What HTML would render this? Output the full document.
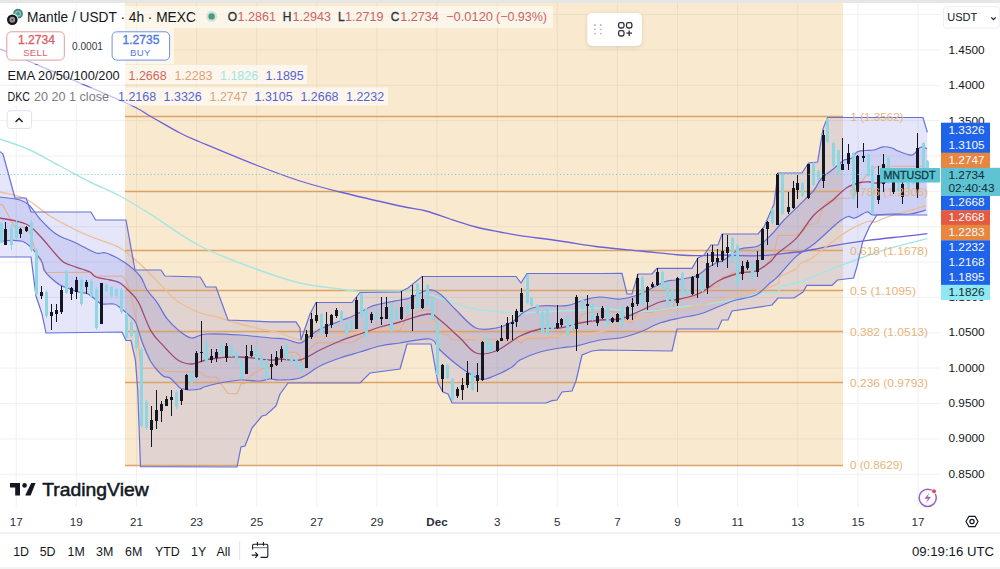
<!DOCTYPE html>
<html><head><meta charset="utf-8">
<style>
html,body{margin:0;padding:0;background:#fff;width:1000px;height:569px;overflow:hidden;}
svg{position:absolute;left:0;top:0;}
text{font-family:"Liberation Sans",sans-serif;}
</style></head>
<body>
<svg width="1000" height="569" viewBox="0 0 1000 569">
<rect x="0" y="0" width="1000" height="569" fill="#ffffff"/>
<line x1="16.2" y1="3" x2="16.2" y2="507" stroke="#eff0f3" stroke-width="1"/>
<line x1="76.3" y1="3" x2="76.3" y2="507" stroke="#eff0f3" stroke-width="1"/>
<line x1="136.4" y1="3" x2="136.4" y2="507" stroke="#eff0f3" stroke-width="1"/>
<line x1="196.6" y1="3" x2="196.6" y2="507" stroke="#eff0f3" stroke-width="1"/>
<line x1="256.7" y1="3" x2="256.7" y2="507" stroke="#eff0f3" stroke-width="1"/>
<line x1="316.8" y1="3" x2="316.8" y2="507" stroke="#eff0f3" stroke-width="1"/>
<line x1="376.9" y1="3" x2="376.9" y2="507" stroke="#eff0f3" stroke-width="1"/>
<line x1="437.0" y1="3" x2="437.0" y2="507" stroke="#eff0f3" stroke-width="1"/>
<line x1="497.2" y1="3" x2="497.2" y2="507" stroke="#eff0f3" stroke-width="1"/>
<line x1="557.3" y1="3" x2="557.3" y2="507" stroke="#eff0f3" stroke-width="1"/>
<line x1="617.4" y1="3" x2="617.4" y2="507" stroke="#eff0f3" stroke-width="1"/>
<line x1="677.5" y1="3" x2="677.5" y2="507" stroke="#eff0f3" stroke-width="1"/>
<line x1="737.6" y1="3" x2="737.6" y2="507" stroke="#eff0f3" stroke-width="1"/>
<line x1="797.8" y1="3" x2="797.8" y2="507" stroke="#eff0f3" stroke-width="1"/>
<line x1="857.9" y1="3" x2="857.9" y2="507" stroke="#eff0f3" stroke-width="1"/>
<line x1="918.0" y1="3" x2="918.0" y2="507" stroke="#eff0f3" stroke-width="1"/>
<line x1="0" y1="14.5" x2="940" y2="14.5" stroke="#eff0f3" stroke-width="1"/>
<line x1="0" y1="49.9" x2="940" y2="49.9" stroke="#eff0f3" stroke-width="1"/>
<line x1="0" y1="85.3" x2="940" y2="85.3" stroke="#eff0f3" stroke-width="1"/>
<line x1="0" y1="120.6" x2="940" y2="120.6" stroke="#eff0f3" stroke-width="1"/>
<line x1="0" y1="156.0" x2="940" y2="156.0" stroke="#eff0f3" stroke-width="1"/>
<line x1="0" y1="191.3" x2="940" y2="191.3" stroke="#eff0f3" stroke-width="1"/>
<line x1="0" y1="226.7" x2="940" y2="226.7" stroke="#eff0f3" stroke-width="1"/>
<line x1="0" y1="262.1" x2="940" y2="262.1" stroke="#eff0f3" stroke-width="1"/>
<line x1="0" y1="297.4" x2="940" y2="297.4" stroke="#eff0f3" stroke-width="1"/>
<line x1="0" y1="332.8" x2="940" y2="332.8" stroke="#eff0f3" stroke-width="1"/>
<line x1="0" y1="368.1" x2="940" y2="368.1" stroke="#eff0f3" stroke-width="1"/>
<line x1="0" y1="403.5" x2="940" y2="403.5" stroke="#eff0f3" stroke-width="1"/>
<line x1="0" y1="438.9" x2="940" y2="438.9" stroke="#eff0f3" stroke-width="1"/>
<line x1="0" y1="474.2" x2="940" y2="474.2" stroke="#eff0f3" stroke-width="1"/>
<rect x="125" y="3" width="718" height="462" fill="#e6a030" fill-opacity="0.23"/>
<path d="M0.0,151.6 L3.0,154.0 L9.0,176.0 L15.0,198.0 L26.0,198.0 L31.0,212.0 L91.0,212.0 L95.6,220.0 L126.0,220.0 L135.0,270.0 L161.0,270.0 L165.0,276.0 L200.0,277.0 L202.0,280.0 L206.0,287.0 L216.0,287.0 L228.0,320.0 L270.0,321.8 L296.0,321.8 L300.0,328.0 L301.0,340.0 L310.0,314.0 L316.0,302.5 L352.0,302.5 L360.0,292.5 L400.0,292.0 L408.0,288.0 L422.0,276.5 L516.0,276.5 L521.0,283.0 L527.0,273.5 L600.0,273.5 L622.0,273.4 L627.0,294.0 L632.0,294.0 L638.0,274.0 L652.0,274.0 L657.0,268.4 L692.0,268.4 L698.0,258.0 L704.0,255.0 L711.0,245.0 L718.0,245.0 L722.0,234.0 L758.0,234.0 L764.0,227.0 L774.0,204.0 L778.0,173.0 L802.0,173.0 L808.6,163.0 L817.6,162.0 L823.0,128.8 L827.5,117.5 L923.0,117.5 L927.4,132.4 L927.4,215.0 L877.0,215.0 L869.8,226.0 L862.6,242.0 L857.2,265.6 L853.6,278.0 L837.4,280.0 L832.0,285.4 L806.8,285.4 L803.0,292.0 L800.0,294.0 L794.0,298.0 L778.0,298.0 L772.0,305.0 L766.0,306.0 L732.0,311.0 L728.0,320.0 L722.0,320.0 L718.0,329.0 L677.0,329.0 L672.0,351.0 L600.0,350.0 L592.0,351.0 L582.0,355.0 L576.0,381.0 L572.0,391.0 L562.0,392.0 L557.0,400.0 L552.0,400.6 L546.0,403.0 L452.0,403.0 L448.0,394.0 L443.0,392.0 L438.0,383.0 L433.0,355.0 L431.0,344.0 L407.0,344.0 L404.0,355.0 L400.0,369.0 L370.0,373.0 L360.0,383.0 L300.0,383.0 L292.0,383.0 L288.0,383.0 L286.0,386.0 L280.0,394.0 L276.0,406.0 L266.0,415.0 L262.0,416.0 L252.0,428.0 L245.0,446.0 L241.0,447.0 L237.0,467.0 L140.5,466.6 L137.7,390.0 L135.4,360.0 L131.0,340.5 L126.0,340.5 L122.0,332.0 L46.0,333.0 L42.0,314.0 L36.0,296.0 L31.0,257.0 L0.0,257.0Z" fill="#5b63d8" fill-opacity="0.16"/>
<path d="M0.0,197.0 C3.3,197.5 15.0,198.5 20.0,200.0 C25.0,201.5 26.7,202.8 30.0,206.0 C33.3,209.2 35.7,214.3 40.0,219.0 C44.3,223.7 50.0,230.0 56.0,234.0 C62.0,238.0 69.3,239.8 76.0,243.0 C82.7,246.2 91.0,251.3 96.0,253.0 C101.0,254.7 101.3,251.5 106.0,253.0 C110.7,254.5 118.3,258.2 124.0,262.0 C129.7,265.8 136.2,271.3 140.0,276.0 C143.8,280.7 144.2,285.6 147.0,290.0 C149.8,294.4 153.7,297.6 157.0,302.3 C160.3,307.0 163.1,313.6 166.8,318.3 C170.5,323.0 174.9,327.3 179.0,330.6 C183.1,333.9 186.9,337.4 191.4,338.0 C195.9,338.6 197.9,334.5 206.0,334.0 C214.1,333.5 229.3,334.3 240.0,335.0 C250.7,335.7 262.5,337.3 270.0,338.0 C277.5,338.7 280.0,338.2 285.0,339.0 C290.0,339.8 295.8,343.5 300.0,343.0 C304.2,342.5 306.7,338.3 310.0,336.0 C313.3,333.7 315.0,331.5 320.0,329.0 C325.0,326.5 334.5,323.2 340.0,321.0 C345.5,318.8 348.0,318.3 353.0,316.0 C358.0,313.7 365.5,309.0 370.0,307.0 C374.5,305.0 375.0,305.2 380.0,304.0 C385.0,302.8 395.0,301.0 400.0,300.0 C405.0,299.0 405.3,299.7 410.0,298.0 C414.7,296.3 423.0,290.7 428.0,290.0 C433.0,289.3 435.3,290.7 440.0,294.0 C444.7,297.3 450.0,304.3 456.0,310.0 C462.0,315.7 469.3,325.0 476.0,328.0 C482.7,331.0 490.0,329.0 496.0,328.0 C502.0,327.0 507.3,324.7 512.0,322.0 C516.7,319.3 519.3,314.7 524.0,312.0 C528.7,309.3 534.0,307.0 540.0,306.0 C546.0,305.0 555.0,306.2 560.0,306.0 C565.0,305.8 566.0,306.0 570.0,305.0 C574.0,304.0 579.0,301.3 584.0,300.0 C589.0,298.7 594.0,297.2 600.0,297.0 C606.0,296.8 613.3,299.5 620.0,299.0 C626.7,298.5 632.7,296.8 640.0,294.0 C647.3,291.2 658.0,284.3 664.0,282.0 C670.0,279.7 670.7,281.0 676.0,280.0 C681.3,279.0 691.0,277.8 696.0,276.0 C701.0,274.2 702.7,271.2 706.0,269.0 C709.3,266.8 713.0,264.5 716.0,263.0 C719.0,261.5 720.0,262.3 724.0,260.0 C728.0,257.7 734.3,251.3 740.0,249.0 C745.7,246.7 752.7,248.5 758.0,246.0 C763.3,243.5 767.7,238.3 772.0,234.0 C776.3,229.7 779.3,224.9 784.0,220.0 C788.7,215.1 795.0,209.4 800.0,204.4 C805.0,199.4 810.5,194.2 814.0,190.0 C817.5,185.8 818.0,182.3 821.0,179.0 C824.0,175.7 828.4,173.0 832.0,170.0 C835.6,167.0 840.5,162.8 842.8,161.0 C845.1,159.2 844.5,160.0 846.0,159.5 C847.5,159.0 850.2,159.2 852.0,158.0 C853.8,156.8 854.8,153.2 857.0,152.0 C859.2,150.8 862.2,150.8 865.0,150.5 C867.8,150.2 871.0,150.6 874.0,150.0 C877.0,149.4 880.0,147.1 883.0,146.8 C886.0,146.5 889.5,147.3 892.0,148.0 C894.5,148.7 894.7,149.8 898.0,151.0 C901.3,152.2 908.3,155.6 912.0,155.0 C915.7,154.4 917.5,148.6 920.0,147.5 C922.5,146.4 925.8,148.3 927.0,148.5 L926.0,210.0 C923.3,210.7 916.0,213.3 910.0,214.0 C904.0,214.7 896.2,213.8 890.0,214.0 C883.8,214.2 876.8,215.3 873.0,215.0 C869.2,214.7 870.0,211.5 867.0,212.0 C864.0,212.5 858.2,217.2 855.0,218.0 C851.8,218.8 850.5,216.0 848.0,216.5 C845.5,217.0 842.7,219.1 840.0,221.0 C837.3,222.9 836.3,224.0 832.0,227.8 C827.7,231.6 820.0,239.2 814.0,244.0 C808.0,248.8 802.0,251.2 796.0,256.6 C790.0,262.0 782.3,272.0 778.0,276.4 C773.7,280.8 773.7,279.9 770.0,283.0 C766.3,286.1 761.7,292.2 756.0,295.0 C750.3,297.8 742.0,298.2 736.0,300.0 C730.0,301.8 726.0,303.7 720.0,306.0 C714.0,308.3 706.7,312.0 700.0,314.0 C693.3,316.0 686.7,316.5 680.0,318.0 C673.3,319.5 666.7,320.7 660.0,323.0 C653.3,325.3 646.7,329.5 640.0,332.0 C633.3,334.5 626.7,336.7 620.0,338.0 C613.3,339.3 607.3,338.7 600.0,340.0 C592.7,341.3 582.7,344.7 576.0,346.0 C569.3,347.3 566.0,347.0 560.0,348.0 C554.0,349.0 546.7,350.0 540.0,352.0 C533.3,354.0 524.7,357.5 520.0,360.0 C515.3,362.5 516.3,364.3 512.0,367.0 C507.7,369.7 499.3,374.0 494.0,376.0 C488.7,378.0 485.7,380.5 480.0,379.0 C474.3,377.5 466.7,371.8 460.0,367.0 C453.3,362.2 445.0,354.7 440.0,350.0 C435.0,345.3 436.7,340.2 430.0,339.0 C423.3,337.8 408.3,341.8 400.0,343.0 C391.7,344.2 386.7,344.5 380.0,346.0 C373.3,347.5 366.7,350.0 360.0,352.0 C353.3,354.0 346.7,355.7 340.0,358.0 C333.3,360.3 326.7,362.7 320.0,366.0 C313.3,369.3 306.7,375.7 300.0,378.0 C293.3,380.3 285.0,379.8 280.0,380.0 C275.0,380.2 273.3,378.8 270.0,379.0 C266.7,379.2 264.3,380.8 260.0,381.0 C255.7,381.2 247.3,380.2 244.0,380.0 C240.7,379.8 244.0,379.5 240.0,380.0 C236.0,380.5 226.0,381.8 220.0,383.0 C214.0,384.2 207.3,386.0 204.0,387.0 C200.7,388.0 202.3,388.5 200.0,389.0 C197.7,389.5 192.7,390.0 190.0,390.0 C187.3,390.0 185.7,389.3 184.0,389.0 C182.3,388.7 182.3,389.8 180.0,388.0 C177.7,386.2 172.7,379.9 170.0,378.0 C167.3,376.1 166.2,377.8 164.0,376.5 C161.8,375.2 159.2,372.4 157.0,370.0 C154.8,367.6 152.5,364.3 151.0,362.0 C149.5,359.7 149.5,359.4 148.0,356.0 C146.5,352.6 144.0,347.2 142.0,341.7 C140.0,336.2 137.8,327.3 136.0,323.2 C134.2,319.1 133.5,319.4 131.0,317.0 C128.5,314.6 124.0,310.7 121.2,308.5 C118.4,306.3 117.2,304.8 114.0,304.0 C110.8,303.2 105.0,304.7 102.0,304.0 C99.0,303.3 98.3,301.7 96.0,300.0 C93.7,298.3 91.0,295.3 88.0,294.0 C85.0,292.7 81.0,292.8 78.0,292.0 C75.0,291.2 73.0,290.2 70.0,289.0 C67.0,287.8 63.3,287.0 60.0,285.0 C56.7,283.0 52.7,279.5 50.0,277.0 C47.3,274.5 45.5,272.8 44.0,270.0 C42.5,267.2 44.3,264.7 41.0,260.0 C37.7,255.3 30.8,245.2 24.0,242.0 C17.2,238.8 4.0,241.2 0.0,241.0Z" fill="#5b63d8" fill-opacity="0.16"/>
<line x1="125" y1="116.5" x2="843" y2="116.5" stroke="#dca265" stroke-width="1.3"/>
<line x1="125" y1="191.5" x2="843" y2="191.5" stroke="#dca265" stroke-width="1.3"/>
<line x1="125" y1="250.5" x2="843" y2="250.5" stroke="#dca265" stroke-width="1.3"/>
<line x1="125" y1="290.5" x2="843" y2="290.5" stroke="#dca265" stroke-width="1.3"/>
<line x1="125" y1="331.5" x2="843" y2="331.5" stroke="#dca265" stroke-width="1.3"/>
<line x1="125" y1="382.5" x2="843" y2="382.5" stroke="#dca265" stroke-width="1.3"/>
<line x1="125" y1="465.5" x2="843" y2="465.5" stroke="#dca265" stroke-width="1.3"/>
<path d="M0.0,204.3 L3.0,205.5 L9.0,216.5 L15.0,227.5 L26.0,227.5 L31.0,234.5 L36.0,254.0 L42.0,263.0 L46.0,272.5 L91.0,272.2 L95.6,276.2 L122.0,276.0 L126.0,280.2 L131.0,294.1 L135.0,314.1 L135.4,315.0 L137.7,330.0 L140.5,368.3 L161.0,368.3 L165.0,371.4 L200.0,371.9 L202.0,373.4 L206.0,376.9 L216.0,377.0 L228.0,393.5 L237.0,393.7 L241.0,383.8 L245.0,383.4 L252.0,374.5 L262.0,368.7 L266.0,368.3 L270.0,366.6 L276.0,363.9 L280.0,357.9 L286.0,353.9 L288.0,352.4 L292.0,352.4 L296.0,352.4 L300.0,355.5 L301.0,361.5 L310.0,348.5 L316.0,342.8 L352.0,342.8 L360.0,337.8 L370.0,332.7 L400.0,330.5 L404.0,322.5 L407.0,316.2 L408.0,316.0 L422.0,310.2 L431.0,310.2 L433.0,315.8 L438.0,329.8 L443.0,334.2 L448.0,335.2 L452.0,339.8 L516.0,339.8 L521.0,343.0 L527.0,338.2 L546.0,338.2 L552.0,337.1 L557.0,336.8 L562.0,332.8 L572.0,332.2 L576.0,327.2 L582.0,314.2 L592.0,312.2 L600.0,311.8 L622.0,311.9 L627.0,322.2 L632.0,322.2 L638.0,312.3 L652.0,312.4 L657.0,309.6 L672.0,309.7 L677.0,298.7 L692.0,298.7 L698.0,293.5 L704.0,292.0 L711.0,287.0 L718.0,287.0 L722.0,277.0 L728.0,277.0 L732.0,272.5 L758.0,270.6 L764.0,266.6 L766.0,264.2 L772.0,256.8 L774.0,253.3 L778.0,235.5 L794.0,235.5 L800.0,233.5 L802.0,232.8 L803.0,231.7 L806.8,225.6 L808.6,224.2 L817.6,223.7 L823.0,207.1 L827.5,201.4 L832.0,201.4 L837.4,198.8 L853.6,197.8 L857.2,191.6 L862.6,179.8 L869.8,171.8 L877.0,166.2 L923.0,166.2 L927.4,173.7" fill="none" stroke="#eba978" stroke-width="1.1" stroke-opacity="0.85"/>
<path d="M0.0,139.0 C5.0,140.8 20.0,145.5 30.0,150.0 C40.0,154.5 50.0,160.7 60.0,166.0 C70.0,171.3 80.0,177.0 90.0,182.0 C100.0,187.0 110.0,190.7 120.0,196.0 C130.0,201.3 136.7,205.5 150.0,213.8 C163.3,222.1 182.3,236.8 200.0,246.0 C217.7,255.2 239.3,262.8 256.0,269.0 C272.7,275.2 286.0,279.7 300.0,283.0 C314.0,286.3 330.0,287.6 340.0,289.0 C350.0,290.4 350.0,291.3 360.0,291.6 C370.0,291.9 390.0,290.9 400.0,291.0 C410.0,291.1 413.3,290.8 420.0,292.0 C426.7,293.2 431.7,295.3 440.0,298.0 C448.3,300.7 460.0,305.7 470.0,308.0 C480.0,310.3 491.7,311.2 500.0,312.0 C508.3,312.8 513.3,313.0 520.0,313.0 C526.7,313.0 533.3,312.3 540.0,312.0 C546.7,311.7 553.3,311.3 560.0,311.0 C566.7,310.7 573.3,310.5 580.0,310.0 C586.7,309.5 590.0,307.7 600.0,308.0 C610.0,308.3 626.7,312.2 640.0,312.0 C653.3,311.8 670.0,308.2 680.0,307.0 C690.0,305.8 693.3,305.8 700.0,305.0 C706.7,304.2 713.3,303.0 720.0,302.0 C726.7,301.0 733.3,300.5 740.0,299.0 C746.7,297.5 753.7,294.2 760.0,293.0 C766.3,291.8 774.7,293.0 778.0,292.0 C781.3,291.0 776.3,288.7 780.0,287.0 C783.7,285.3 794.3,283.8 800.0,282.0 C805.7,280.2 805.7,279.7 814.0,276.4 C822.3,273.1 838.0,266.5 850.0,262.0 C862.0,257.5 873.1,253.3 886.0,249.4 C898.9,245.5 920.5,240.4 927.4,238.6" fill="none" stroke="#a6e6e2" stroke-width="1.4"/>
<path d="M0.0,49.0 C4.3,50.8 5.3,51.2 26.0,60.0 C46.7,68.8 103.3,92.7 124.0,102.0 C144.7,111.3 140.7,110.8 150.0,116.0 C159.3,121.2 171.7,128.7 180.0,133.0 C188.3,137.3 187.3,136.7 200.0,142.0 C212.7,147.3 239.3,158.5 256.0,165.0 C272.7,171.5 286.0,176.5 300.0,181.0 C314.0,185.5 323.3,187.8 340.0,192.0 C356.7,196.2 385.7,202.8 400.0,206.0 C414.3,209.2 417.7,208.8 426.0,211.0 C434.3,213.2 441.7,216.3 450.0,219.0 C458.3,221.7 467.7,224.8 476.0,227.0 C484.3,229.2 492.7,230.6 500.0,232.0 C507.3,233.4 510.0,234.1 520.0,235.6 C530.0,237.1 546.7,239.1 560.0,241.0 C573.3,242.9 586.7,245.3 600.0,247.0 C613.3,248.7 626.7,249.7 640.0,251.0 C653.3,252.3 670.0,254.2 680.0,255.0 C690.0,255.8 693.3,255.6 700.0,255.6 C706.7,255.6 710.0,255.0 720.0,255.0 C730.0,255.0 747.3,256.2 760.0,255.7 C772.7,255.2 789.3,252.6 796.0,252.0 C802.7,251.4 794.0,253.0 800.0,252.0 C806.0,251.0 820.7,247.7 832.0,245.8 C843.3,243.9 856.0,242.0 868.0,240.4 C880.0,238.8 894.1,237.5 904.0,236.4 C913.9,235.3 923.5,234.1 927.4,233.6" fill="none" stroke="#6c62d8" stroke-width="1.3"/>
<path d="M0.0,192.0 C4.3,193.2 17.7,195.0 26.0,199.0 C34.3,203.0 41.0,210.5 50.0,216.0 C59.0,221.5 71.7,228.0 80.0,232.0 C88.3,236.0 93.3,237.3 100.0,240.0 C106.7,242.7 113.3,244.0 120.0,248.0 C126.7,252.0 134.0,258.7 140.0,264.0 C146.0,269.3 151.8,275.7 156.0,280.0 C160.2,284.3 162.3,286.7 165.5,290.0 C168.7,293.3 171.7,296.9 175.4,299.8 C179.1,302.7 183.6,305.0 187.7,307.2 C191.8,309.4 194.6,311.0 200.0,312.8 C205.4,314.6 213.3,316.1 220.0,318.0 C226.7,319.9 231.7,321.8 240.0,324.0 C248.3,326.2 263.3,329.5 270.0,331.0 C276.7,332.5 275.0,331.5 280.0,333.0 C285.0,334.5 293.3,339.2 300.0,340.0 C306.7,340.8 313.3,338.8 320.0,338.0 C326.7,337.2 333.3,336.0 340.0,335.0 C346.7,334.0 350.0,333.3 360.0,332.0 C370.0,330.7 388.7,328.7 400.0,327.0 C411.3,325.3 419.7,321.5 428.0,322.0 C436.3,322.5 441.3,327.0 450.0,330.0 C458.7,333.0 471.7,338.3 480.0,340.0 C488.3,341.7 493.3,340.3 500.0,340.0 C506.7,339.7 513.3,338.7 520.0,338.0 C526.7,337.3 533.3,336.3 540.0,336.0 C546.7,335.7 550.0,336.7 560.0,336.0 C570.0,335.3 590.0,334.0 600.0,332.0 C610.0,330.0 613.3,326.3 620.0,324.0 C626.7,321.7 633.3,319.8 640.0,318.0 C646.7,316.2 653.3,314.5 660.0,313.0 C666.7,311.5 673.3,310.3 680.0,309.0 C686.7,307.7 693.3,306.5 700.0,305.0 C706.7,303.5 713.3,301.7 720.0,300.0 C726.7,298.3 733.3,296.7 740.0,295.0 C746.7,293.3 753.7,291.9 760.0,290.0 C766.3,288.1 774.7,285.8 778.0,283.6 C781.3,281.4 777.0,279.4 780.0,277.0 C783.0,274.6 792.7,271.2 796.0,269.0 C799.3,266.8 797.0,266.1 800.0,264.0 C803.0,261.9 808.7,260.3 814.0,256.6 C819.3,252.9 826.0,246.5 832.0,242.0 C838.0,237.5 844.0,233.0 850.0,229.6 C856.0,226.2 863.8,222.8 868.0,221.5 C872.2,220.2 871.3,222.9 875.0,222.0 C878.7,221.1 881.5,218.7 890.0,216.0 C898.5,213.3 920.0,207.7 926.0,206.0" fill="none" stroke="#efbd90" stroke-width="1.3"/>
<path d="M0.0,151.6 L3.0,154.0 L9.0,176.0 L15.0,198.0 L26.0,198.0 L31.0,212.0 L91.0,212.0 L95.6,220.0 L126.0,220.0 L135.0,270.0 L161.0,270.0 L165.0,276.0 L200.0,277.0 L202.0,280.0 L206.0,287.0 L216.0,287.0 L228.0,320.0 L270.0,321.8 L296.0,321.8 L300.0,328.0 L301.0,340.0 L310.0,314.0 L316.0,302.5 L352.0,302.5 L360.0,292.5 L400.0,292.0 L408.0,288.0 L422.0,276.5 L516.0,276.5 L521.0,283.0 L527.0,273.5 L600.0,273.5 L622.0,273.4 L627.0,294.0 L632.0,294.0 L638.0,274.0 L652.0,274.0 L657.0,268.4 L692.0,268.4 L698.0,258.0 L704.0,255.0 L711.0,245.0 L718.0,245.0 L722.0,234.0 L758.0,234.0 L764.0,227.0 L774.0,204.0 L778.0,173.0 L802.0,173.0 L808.6,163.0 L817.6,162.0 L823.0,128.8 L827.5,117.5 L923.0,117.5 L927.4,132.4" fill="none" stroke="#6670da" stroke-width="1.2"/>
<path d="M0.0,257.0 L31.0,257.0 L36.0,296.0 L42.0,314.0 L46.0,333.0 L122.0,332.0 L126.0,340.5 L131.0,340.5 L135.4,360.0 L137.7,390.0 L140.5,466.6 L237.0,467.0 L241.0,447.0 L245.0,446.0 L252.0,428.0 L262.0,416.0 L266.0,415.0 L276.0,406.0 L280.0,394.0 L286.0,386.0 L288.0,383.0 L292.0,383.0 L300.0,383.0 L360.0,383.0 L370.0,373.0 L400.0,369.0 L404.0,355.0 L407.0,344.0 L431.0,344.0 L433.0,355.0 L438.0,383.0 L443.0,392.0 L448.0,394.0 L452.0,403.0 L546.0,403.0 L552.0,400.6 L557.0,400.0 L562.0,392.0 L572.0,391.0 L576.0,381.0 L582.0,355.0 L592.0,351.0 L600.0,350.0 L672.0,351.0 L677.0,329.0 L718.0,329.0 L722.0,320.0 L728.0,320.0 L732.0,311.0 L766.0,306.0 L772.0,305.0 L778.0,298.0 L794.0,298.0 L800.0,294.0 L803.0,292.0 L806.8,285.4 L832.0,285.4 L837.4,280.0 L853.6,278.0 L857.2,265.6 L862.6,242.0 L869.8,226.0 L877.0,215.0 L927.4,215.0" fill="none" stroke="#6670da" stroke-width="1.2"/>
<path d="M0.0,197.0 C3.3,197.5 15.0,198.5 20.0,200.0 C25.0,201.5 26.7,202.8 30.0,206.0 C33.3,209.2 35.7,214.3 40.0,219.0 C44.3,223.7 50.0,230.0 56.0,234.0 C62.0,238.0 69.3,239.8 76.0,243.0 C82.7,246.2 91.0,251.3 96.0,253.0 C101.0,254.7 101.3,251.5 106.0,253.0 C110.7,254.5 118.3,258.2 124.0,262.0 C129.7,265.8 136.2,271.3 140.0,276.0 C143.8,280.7 144.2,285.6 147.0,290.0 C149.8,294.4 153.7,297.6 157.0,302.3 C160.3,307.0 163.1,313.6 166.8,318.3 C170.5,323.0 174.9,327.3 179.0,330.6 C183.1,333.9 186.9,337.4 191.4,338.0 C195.9,338.6 197.9,334.5 206.0,334.0 C214.1,333.5 229.3,334.3 240.0,335.0 C250.7,335.7 262.5,337.3 270.0,338.0 C277.5,338.7 280.0,338.2 285.0,339.0 C290.0,339.8 295.8,343.5 300.0,343.0 C304.2,342.5 306.7,338.3 310.0,336.0 C313.3,333.7 315.0,331.5 320.0,329.0 C325.0,326.5 334.5,323.2 340.0,321.0 C345.5,318.8 348.0,318.3 353.0,316.0 C358.0,313.7 365.5,309.0 370.0,307.0 C374.5,305.0 375.0,305.2 380.0,304.0 C385.0,302.8 395.0,301.0 400.0,300.0 C405.0,299.0 405.3,299.7 410.0,298.0 C414.7,296.3 423.0,290.7 428.0,290.0 C433.0,289.3 435.3,290.7 440.0,294.0 C444.7,297.3 450.0,304.3 456.0,310.0 C462.0,315.7 469.3,325.0 476.0,328.0 C482.7,331.0 490.0,329.0 496.0,328.0 C502.0,327.0 507.3,324.7 512.0,322.0 C516.7,319.3 519.3,314.7 524.0,312.0 C528.7,309.3 534.0,307.0 540.0,306.0 C546.0,305.0 555.0,306.2 560.0,306.0 C565.0,305.8 566.0,306.0 570.0,305.0 C574.0,304.0 579.0,301.3 584.0,300.0 C589.0,298.7 594.0,297.2 600.0,297.0 C606.0,296.8 613.3,299.5 620.0,299.0 C626.7,298.5 632.7,296.8 640.0,294.0 C647.3,291.2 658.0,284.3 664.0,282.0 C670.0,279.7 670.7,281.0 676.0,280.0 C681.3,279.0 691.0,277.8 696.0,276.0 C701.0,274.2 702.7,271.2 706.0,269.0 C709.3,266.8 713.0,264.5 716.0,263.0 C719.0,261.5 720.0,262.3 724.0,260.0 C728.0,257.7 734.3,251.3 740.0,249.0 C745.7,246.7 752.7,248.5 758.0,246.0 C763.3,243.5 767.7,238.3 772.0,234.0 C776.3,229.7 779.3,224.9 784.0,220.0 C788.7,215.1 795.0,209.4 800.0,204.4 C805.0,199.4 810.5,194.2 814.0,190.0 C817.5,185.8 818.0,182.3 821.0,179.0 C824.0,175.7 828.4,173.0 832.0,170.0 C835.6,167.0 840.5,162.8 842.8,161.0 C845.1,159.2 844.5,160.0 846.0,159.5 C847.5,159.0 850.2,159.2 852.0,158.0 C853.8,156.8 854.8,153.2 857.0,152.0 C859.2,150.8 862.2,150.8 865.0,150.5 C867.8,150.2 871.0,150.6 874.0,150.0 C877.0,149.4 880.0,147.1 883.0,146.8 C886.0,146.5 889.5,147.3 892.0,148.0 C894.5,148.7 894.7,149.8 898.0,151.0 C901.3,152.2 908.3,155.6 912.0,155.0 C915.7,154.4 917.5,148.6 920.0,147.5 C922.5,146.4 925.8,148.3 927.0,148.5" fill="none" stroke="#6670da" stroke-width="1.2"/>
<path d="M0.0,241.0 C4.0,241.2 17.2,238.8 24.0,242.0 C30.8,245.2 37.7,255.3 41.0,260.0 C44.3,264.7 42.5,267.2 44.0,270.0 C45.5,272.8 47.3,274.5 50.0,277.0 C52.7,279.5 56.7,283.0 60.0,285.0 C63.3,287.0 67.0,287.8 70.0,289.0 C73.0,290.2 75.0,291.2 78.0,292.0 C81.0,292.8 85.0,292.7 88.0,294.0 C91.0,295.3 93.7,298.3 96.0,300.0 C98.3,301.7 99.0,303.3 102.0,304.0 C105.0,304.7 110.8,303.2 114.0,304.0 C117.2,304.8 118.4,306.3 121.2,308.5 C124.0,310.7 128.5,314.6 131.0,317.0 C133.5,319.4 134.2,319.1 136.0,323.2 C137.8,327.3 140.0,336.2 142.0,341.7 C144.0,347.2 146.5,352.6 148.0,356.0 C149.5,359.4 149.5,359.7 151.0,362.0 C152.5,364.3 154.8,367.6 157.0,370.0 C159.2,372.4 161.8,375.2 164.0,376.5 C166.2,377.8 167.3,376.1 170.0,378.0 C172.7,379.9 177.7,386.2 180.0,388.0 C182.3,389.8 182.3,388.7 184.0,389.0 C185.7,389.3 187.3,390.0 190.0,390.0 C192.7,390.0 197.7,389.5 200.0,389.0 C202.3,388.5 200.7,388.0 204.0,387.0 C207.3,386.0 214.0,384.2 220.0,383.0 C226.0,381.8 236.0,380.5 240.0,380.0 C244.0,379.5 240.7,379.8 244.0,380.0 C247.3,380.2 255.7,381.2 260.0,381.0 C264.3,380.8 266.7,379.2 270.0,379.0 C273.3,378.8 275.0,380.2 280.0,380.0 C285.0,379.8 293.3,380.3 300.0,378.0 C306.7,375.7 313.3,369.3 320.0,366.0 C326.7,362.7 333.3,360.3 340.0,358.0 C346.7,355.7 353.3,354.0 360.0,352.0 C366.7,350.0 373.3,347.5 380.0,346.0 C386.7,344.5 391.7,344.2 400.0,343.0 C408.3,341.8 423.3,337.8 430.0,339.0 C436.7,340.2 435.0,345.3 440.0,350.0 C445.0,354.7 453.3,362.2 460.0,367.0 C466.7,371.8 474.3,377.5 480.0,379.0 C485.7,380.5 488.7,378.0 494.0,376.0 C499.3,374.0 507.7,369.7 512.0,367.0 C516.3,364.3 515.3,362.5 520.0,360.0 C524.7,357.5 533.3,354.0 540.0,352.0 C546.7,350.0 554.0,349.0 560.0,348.0 C566.0,347.0 569.3,347.3 576.0,346.0 C582.7,344.7 592.7,341.3 600.0,340.0 C607.3,338.7 613.3,339.3 620.0,338.0 C626.7,336.7 633.3,334.5 640.0,332.0 C646.7,329.5 653.3,325.3 660.0,323.0 C666.7,320.7 673.3,319.5 680.0,318.0 C686.7,316.5 693.3,316.0 700.0,314.0 C706.7,312.0 714.0,308.3 720.0,306.0 C726.0,303.7 730.0,301.8 736.0,300.0 C742.0,298.2 750.3,297.8 756.0,295.0 C761.7,292.2 766.3,286.1 770.0,283.0 C773.7,279.9 773.7,280.8 778.0,276.4 C782.3,272.0 790.0,262.0 796.0,256.6 C802.0,251.2 808.0,248.8 814.0,244.0 C820.0,239.2 827.7,231.6 832.0,227.8 C836.3,224.0 837.3,222.9 840.0,221.0 C842.7,219.1 845.5,217.0 848.0,216.5 C850.5,216.0 851.8,218.8 855.0,218.0 C858.2,217.2 864.0,212.5 867.0,212.0 C870.0,211.5 869.2,214.7 873.0,215.0 C876.8,215.3 883.8,214.2 890.0,214.0 C896.2,213.8 904.0,214.7 910.0,214.0 C916.0,213.3 923.3,210.7 926.0,210.0" fill="none" stroke="#6670da" stroke-width="1.2"/>
<path d="M0.0,218.0 C4.3,219.0 19.3,221.0 26.0,224.0 C32.7,227.0 34.2,230.0 40.0,236.0 C45.8,242.0 56.0,255.2 61.0,260.0 C66.0,264.8 66.5,263.5 70.0,265.0 C73.5,266.5 78.7,267.8 82.0,269.0 C85.3,270.2 87.7,270.7 90.0,272.0 C92.3,273.3 92.7,275.7 96.0,277.0 C99.3,278.3 106.0,279.0 110.0,280.0 C114.0,281.0 116.7,281.0 120.0,283.0 C123.3,285.0 126.9,288.8 130.0,292.0 C133.1,295.2 135.0,295.9 138.5,302.3 C142.0,308.7 146.7,323.4 150.8,330.6 C154.9,337.8 158.5,340.5 163.0,345.4 C167.5,350.3 173.0,356.9 177.8,360.0 C182.6,363.1 186.6,364.2 192.0,364.0 C197.4,363.8 202.0,360.2 210.0,359.0 C218.0,357.8 230.0,356.8 240.0,357.0 C250.0,357.2 263.3,359.7 270.0,360.0 C276.7,360.3 275.0,359.0 280.0,359.0 C285.0,359.0 293.3,361.5 300.0,360.0 C306.7,358.5 313.3,353.2 320.0,350.0 C326.7,346.8 333.3,343.7 340.0,341.0 C346.7,338.3 353.3,336.3 360.0,334.0 C366.7,331.7 373.3,329.0 380.0,327.0 C386.7,325.0 392.0,324.2 400.0,322.0 C408.0,319.8 421.3,314.3 428.0,314.0 C434.7,313.7 434.7,316.0 440.0,320.0 C445.3,324.0 454.0,332.5 460.0,338.0 C466.0,343.5 470.0,350.8 476.0,353.0 C482.0,355.2 488.7,353.8 496.0,351.0 C503.3,348.2 512.7,339.7 520.0,336.0 C527.3,332.3 533.3,330.3 540.0,329.0 C546.7,327.7 553.3,329.0 560.0,328.0 C566.7,327.0 573.3,324.3 580.0,323.0 C586.7,321.7 593.3,320.7 600.0,320.0 C606.7,319.3 613.3,320.5 620.0,319.0 C626.7,317.5 633.3,313.8 640.0,311.0 C646.7,308.2 653.3,304.0 660.0,302.0 C666.7,300.0 673.3,300.5 680.0,299.0 C686.7,297.5 693.3,296.2 700.0,293.0 C706.7,289.8 713.3,283.3 720.0,280.0 C726.7,276.7 734.0,274.5 740.0,273.0 C746.0,271.5 751.0,272.8 756.0,271.0 C761.0,269.2 766.3,265.0 770.0,262.0 C773.7,259.0 773.7,256.9 778.0,253.0 C782.3,249.1 790.0,244.9 796.0,238.6 C802.0,232.3 808.0,221.3 814.0,215.0 C820.0,208.7 826.6,205.3 832.0,200.8 C837.4,196.3 841.7,191.1 846.4,188.0 C851.1,184.9 856.1,183.5 860.0,182.5 C863.9,181.5 867.2,181.9 870.0,182.0 C872.8,182.1 872.0,183.3 877.0,183.0 C882.0,182.7 891.7,181.2 900.0,180.0 C908.3,178.8 922.5,176.7 927.0,176.0" fill="none" stroke="#a2486a" stroke-width="1.3"/>
<rect x="1" y="223" width="1" height="20" fill="#8fd6e2"/>
<rect x="0" y="223" width="3" height="20" fill="#8fd6e2"/>
<rect x="5" y="222" width="1" height="23" fill="#131722"/>
<rect x="4" y="229" width="3" height="16" fill="#131722"/>
<rect x="11" y="224" width="1" height="26" fill="#8fd6e2"/>
<rect x="10" y="228" width="3" height="17" fill="#8fd6e2"/>
<rect x="16" y="220" width="1" height="20" fill="#8fd6e2"/>
<rect x="15" y="222" width="3" height="16" fill="#8fd6e2"/>
<rect x="20" y="228" width="1" height="10" fill="#131722"/>
<rect x="19" y="229" width="3" height="5" fill="#131722"/>
<rect x="26" y="226" width="1" height="6" fill="#131722"/>
<rect x="25" y="227" width="3" height="4" fill="#131722"/>
<rect x="31" y="220" width="1" height="32" fill="#8fd6e2"/>
<rect x="30" y="222" width="3" height="28" fill="#8fd6e2"/>
<rect x="36" y="248" width="1" height="48" fill="#8fd6e2"/>
<rect x="35" y="250" width="3" height="44" fill="#8fd6e2"/>
<rect x="41" y="286" width="1" height="13" fill="#131722"/>
<rect x="40" y="292" width="3" height="4" fill="#131722"/>
<rect x="46" y="290" width="1" height="28" fill="#8fd6e2"/>
<rect x="45" y="292" width="3" height="24" fill="#8fd6e2"/>
<rect x="51" y="304" width="1" height="26" fill="#131722"/>
<rect x="50" y="312" width="3" height="4" fill="#131722"/>
<rect x="56" y="304" width="1" height="18" fill="#131722"/>
<rect x="55" y="310" width="3" height="4" fill="#131722"/>
<rect x="61" y="286" width="1" height="28" fill="#131722"/>
<rect x="60" y="290" width="3" height="22" fill="#131722"/>
<rect x="66" y="270" width="1" height="24" fill="#8fd6e2"/>
<rect x="65" y="271" width="3" height="22" fill="#8fd6e2"/>
<rect x="71" y="287" width="1" height="13" fill="#131722"/>
<rect x="70" y="288" width="3" height="6" fill="#131722"/>
<rect x="76" y="277" width="1" height="22" fill="#131722"/>
<rect x="75" y="280" width="3" height="12" fill="#131722"/>
<rect x="81" y="278" width="1" height="28" fill="#8fd6e2"/>
<rect x="80" y="280" width="3" height="24" fill="#8fd6e2"/>
<rect x="86" y="280" width="1" height="14" fill="#131722"/>
<rect x="85" y="282" width="3" height="5" fill="#131722"/>
<rect x="91" y="279" width="1" height="19" fill="#8fd6e2"/>
<rect x="90" y="281" width="3" height="15" fill="#8fd6e2"/>
<rect x="96" y="287" width="1" height="43" fill="#8fd6e2"/>
<rect x="95" y="289" width="3" height="39" fill="#8fd6e2"/>
<rect x="101" y="283" width="1" height="41" fill="#131722"/>
<rect x="100" y="283" width="3" height="41" fill="#131722"/>
<rect x="106" y="284" width="1" height="8" fill="#8fd6e2"/>
<rect x="105" y="285" width="3" height="6" fill="#8fd6e2"/>
<rect x="111" y="286" width="1" height="12" fill="#8fd6e2"/>
<rect x="110" y="287" width="3" height="9" fill="#8fd6e2"/>
<rect x="116" y="288" width="1" height="10" fill="#8fd6e2"/>
<rect x="115" y="289" width="3" height="7" fill="#8fd6e2"/>
<rect x="121" y="288" width="1" height="26" fill="#8fd6e2"/>
<rect x="120" y="290" width="3" height="22" fill="#8fd6e2"/>
<rect x="126" y="312" width="1" height="28" fill="#8fd6e2"/>
<rect x="125" y="314" width="3" height="24" fill="#8fd6e2"/>
<rect x="131" y="320" width="1" height="18" fill="#8fd6e2"/>
<rect x="130" y="322" width="3" height="14" fill="#8fd6e2"/>
<rect x="136" y="330" width="1" height="20" fill="#8fd6e2"/>
<rect x="135" y="332" width="3" height="16" fill="#8fd6e2"/>
<rect x="141" y="347" width="1" height="81" fill="#8fd6e2"/>
<rect x="140" y="349" width="3" height="77" fill="#8fd6e2"/>
<rect x="146" y="400" width="1" height="30" fill="#8fd6e2"/>
<rect x="145" y="402" width="3" height="26" fill="#8fd6e2"/>
<rect x="151" y="406" width="1" height="41" fill="#131722"/>
<rect x="150" y="420" width="3" height="10" fill="#131722"/>
<rect x="156" y="390" width="1" height="39" fill="#131722"/>
<rect x="155" y="410" width="3" height="11" fill="#131722"/>
<rect x="161" y="401" width="1" height="21" fill="#131722"/>
<rect x="160" y="404" width="3" height="7" fill="#131722"/>
<rect x="166" y="396" width="1" height="10" fill="#131722"/>
<rect x="165" y="399" width="3" height="7" fill="#131722"/>
<rect x="171" y="390" width="1" height="26" fill="#131722"/>
<rect x="170" y="397" width="3" height="3" fill="#131722"/>
<rect x="176" y="390" width="1" height="19" fill="#8fd6e2"/>
<rect x="175" y="392" width="3" height="15" fill="#8fd6e2"/>
<rect x="181" y="389" width="1" height="16" fill="#131722"/>
<rect x="180" y="390" width="3" height="11" fill="#131722"/>
<rect x="186" y="374" width="1" height="16" fill="#131722"/>
<rect x="185" y="375" width="3" height="15" fill="#131722"/>
<rect x="191" y="371" width="1" height="13" fill="#8fd6e2"/>
<rect x="190" y="372" width="3" height="11" fill="#8fd6e2"/>
<rect x="196" y="351" width="1" height="27" fill="#131722"/>
<rect x="195" y="353" width="3" height="24" fill="#131722"/>
<rect x="201" y="321" width="1" height="41" fill="#131722"/>
<rect x="200" y="352" width="3" height="1" fill="#131722"/>
<rect x="206" y="340" width="1" height="24" fill="#8fd6e2"/>
<rect x="205" y="342" width="3" height="20" fill="#8fd6e2"/>
<rect x="211" y="349" width="1" height="14" fill="#131722"/>
<rect x="210" y="356" width="3" height="4" fill="#131722"/>
<rect x="216" y="349" width="1" height="13" fill="#131722"/>
<rect x="215" y="352" width="3" height="6" fill="#131722"/>
<rect x="221" y="344" width="1" height="12" fill="#8fd6e2"/>
<rect x="220" y="345" width="3" height="10" fill="#8fd6e2"/>
<rect x="226" y="343" width="1" height="19" fill="#131722"/>
<rect x="225" y="346" width="3" height="12" fill="#131722"/>
<rect x="231" y="345" width="1" height="12" fill="#8fd6e2"/>
<rect x="230" y="346" width="3" height="10" fill="#8fd6e2"/>
<rect x="236" y="351" width="1" height="11" fill="#8fd6e2"/>
<rect x="235" y="352" width="3" height="9" fill="#8fd6e2"/>
<rect x="241" y="359" width="1" height="21" fill="#8fd6e2"/>
<rect x="240" y="360" width="3" height="19" fill="#8fd6e2"/>
<rect x="246" y="345" width="1" height="29" fill="#131722"/>
<rect x="245" y="356" width="3" height="18" fill="#131722"/>
<rect x="251" y="345" width="1" height="12" fill="#131722"/>
<rect x="250" y="351" width="3" height="5" fill="#131722"/>
<rect x="256" y="346" width="1" height="16" fill="#8fd6e2"/>
<rect x="255" y="347" width="3" height="14" fill="#8fd6e2"/>
<rect x="261" y="354" width="1" height="14" fill="#8fd6e2"/>
<rect x="260" y="355" width="3" height="12" fill="#8fd6e2"/>
<rect x="266" y="359" width="1" height="21" fill="#8fd6e2"/>
<rect x="265" y="360" width="3" height="19" fill="#8fd6e2"/>
<rect x="271" y="354" width="1" height="25" fill="#131722"/>
<rect x="270" y="364" width="3" height="3" fill="#131722"/>
<rect x="276" y="351" width="1" height="15" fill="#131722"/>
<rect x="275" y="357" width="3" height="8" fill="#131722"/>
<rect x="281" y="346" width="1" height="16" fill="#131722"/>
<rect x="280" y="349" width="3" height="9" fill="#131722"/>
<rect x="286" y="344" width="1" height="16" fill="#8fd6e2"/>
<rect x="285" y="345" width="3" height="14" fill="#8fd6e2"/>
<rect x="291" y="356" width="1" height="7" fill="#8fd6e2"/>
<rect x="290" y="356" width="3" height="6" fill="#8fd6e2"/>
<rect x="296" y="358" width="1" height="10" fill="#8fd6e2"/>
<rect x="295" y="359" width="3" height="8" fill="#8fd6e2"/>
<rect x="301" y="363" width="1" height="9" fill="#8fd6e2"/>
<rect x="300" y="364" width="3" height="7" fill="#8fd6e2"/>
<rect x="306" y="330" width="1" height="38" fill="#131722"/>
<rect x="305" y="334" width="3" height="34" fill="#131722"/>
<rect x="311" y="313" width="1" height="26" fill="#131722"/>
<rect x="310" y="319" width="3" height="18" fill="#131722"/>
<rect x="316" y="302" width="1" height="21" fill="#131722"/>
<rect x="315" y="315" width="3" height="6" fill="#131722"/>
<rect x="321" y="313" width="1" height="21" fill="#8fd6e2"/>
<rect x="320" y="314" width="3" height="19" fill="#8fd6e2"/>
<rect x="326" y="312" width="1" height="25" fill="#131722"/>
<rect x="325" y="324" width="3" height="10" fill="#131722"/>
<rect x="331" y="314" width="1" height="14" fill="#131722"/>
<rect x="330" y="315" width="3" height="10" fill="#131722"/>
<rect x="336" y="308" width="1" height="10" fill="#131722"/>
<rect x="335" y="310" width="3" height="6" fill="#131722"/>
<rect x="341" y="310" width="1" height="13" fill="#8fd6e2"/>
<rect x="340" y="311" width="3" height="11" fill="#8fd6e2"/>
<rect x="346" y="322" width="1" height="13" fill="#8fd6e2"/>
<rect x="345" y="323" width="3" height="11" fill="#8fd6e2"/>
<rect x="351" y="319" width="1" height="11" fill="#8fd6e2"/>
<rect x="350" y="320" width="3" height="9" fill="#8fd6e2"/>
<rect x="356" y="297" width="1" height="32" fill="#131722"/>
<rect x="355" y="300" width="3" height="29" fill="#131722"/>
<rect x="361" y="293" width="1" height="25" fill="#8fd6e2"/>
<rect x="360" y="294" width="3" height="23" fill="#8fd6e2"/>
<rect x="366" y="308" width="1" height="30" fill="#8fd6e2"/>
<rect x="365" y="309" width="3" height="28" fill="#8fd6e2"/>
<rect x="371" y="312" width="1" height="11" fill="#131722"/>
<rect x="370" y="314" width="3" height="6" fill="#131722"/>
<rect x="376" y="310" width="1" height="10" fill="#8fd6e2"/>
<rect x="375" y="311" width="3" height="8" fill="#8fd6e2"/>
<rect x="381" y="297" width="1" height="28" fill="#131722"/>
<rect x="380" y="317" width="3" height="2" fill="#131722"/>
<rect x="386" y="297" width="1" height="22" fill="#131722"/>
<rect x="385" y="307" width="3" height="12" fill="#131722"/>
<rect x="391" y="302" width="1" height="30" fill="#8fd6e2"/>
<rect x="390" y="303" width="3" height="28" fill="#8fd6e2"/>
<rect x="396" y="308" width="1" height="12" fill="#8fd6e2"/>
<rect x="395" y="309" width="3" height="10" fill="#8fd6e2"/>
<rect x="401" y="291" width="1" height="29" fill="#131722"/>
<rect x="400" y="307" width="3" height="12" fill="#131722"/>
<rect x="407" y="303" width="1" height="12" fill="#8fd6e2"/>
<rect x="406" y="304" width="3" height="10" fill="#8fd6e2"/>
<rect x="412" y="285" width="1" height="46" fill="#131722"/>
<rect x="411" y="295" width="3" height="14" fill="#131722"/>
<rect x="417" y="283" width="1" height="26" fill="#8fd6e2"/>
<rect x="416" y="284" width="3" height="24" fill="#8fd6e2"/>
<rect x="422" y="276" width="1" height="33" fill="#131722"/>
<rect x="421" y="299" width="3" height="9" fill="#131722"/>
<rect x="427" y="284" width="1" height="23" fill="#8fd6e2"/>
<rect x="426" y="285" width="3" height="21" fill="#8fd6e2"/>
<rect x="432" y="298" width="1" height="22" fill="#8fd6e2"/>
<rect x="431" y="299" width="3" height="20" fill="#8fd6e2"/>
<rect x="437" y="320" width="1" height="57" fill="#8fd6e2"/>
<rect x="436" y="322" width="3" height="53" fill="#8fd6e2"/>
<rect x="442" y="364" width="1" height="28" fill="#131722"/>
<rect x="441" y="365" width="3" height="14" fill="#131722"/>
<rect x="447" y="364" width="1" height="15" fill="#8fd6e2"/>
<rect x="446" y="365" width="3" height="13" fill="#8fd6e2"/>
<rect x="452" y="378" width="1" height="23" fill="#8fd6e2"/>
<rect x="451" y="379" width="3" height="21" fill="#8fd6e2"/>
<rect x="457" y="387" width="1" height="11" fill="#131722"/>
<rect x="456" y="389" width="3" height="7" fill="#131722"/>
<rect x="462" y="378" width="1" height="22" fill="#131722"/>
<rect x="461" y="385" width="3" height="5" fill="#131722"/>
<rect x="467" y="361" width="1" height="27" fill="#131722"/>
<rect x="466" y="373" width="3" height="12" fill="#131722"/>
<rect x="472" y="371" width="1" height="20" fill="#8fd6e2"/>
<rect x="471" y="372" width="3" height="18" fill="#8fd6e2"/>
<rect x="477" y="363" width="1" height="29" fill="#131722"/>
<rect x="476" y="375" width="3" height="6" fill="#131722"/>
<rect x="482" y="341" width="1" height="40" fill="#131722"/>
<rect x="481" y="342" width="3" height="38" fill="#131722"/>
<rect x="487" y="337" width="1" height="15" fill="#8fd6e2"/>
<rect x="486" y="338" width="3" height="13" fill="#8fd6e2"/>
<rect x="491" y="342" width="1" height="10" fill="#8fd6e2"/>
<rect x="490" y="343" width="3" height="8" fill="#8fd6e2"/>
<rect x="497" y="340" width="1" height="12" fill="#131722"/>
<rect x="496" y="341" width="3" height="10" fill="#131722"/>
<rect x="501" y="325" width="1" height="16" fill="#131722"/>
<rect x="500" y="338" width="3" height="3" fill="#131722"/>
<rect x="507" y="317" width="1" height="24" fill="#131722"/>
<rect x="506" y="323" width="3" height="16" fill="#131722"/>
<rect x="512" y="315" width="1" height="25" fill="#131722"/>
<rect x="511" y="322" width="3" height="2" fill="#131722"/>
<rect x="516" y="309" width="1" height="18" fill="#131722"/>
<rect x="515" y="311" width="3" height="11" fill="#131722"/>
<rect x="521" y="288" width="1" height="24" fill="#131722"/>
<rect x="520" y="293" width="3" height="19" fill="#131722"/>
<rect x="527" y="274" width="1" height="30" fill="#8fd6e2"/>
<rect x="526" y="275" width="3" height="28" fill="#8fd6e2"/>
<rect x="531" y="297" width="1" height="10" fill="#8fd6e2"/>
<rect x="530" y="298" width="3" height="8" fill="#8fd6e2"/>
<rect x="537" y="304" width="1" height="10" fill="#8fd6e2"/>
<rect x="536" y="305" width="3" height="8" fill="#8fd6e2"/>
<rect x="542" y="311" width="1" height="23" fill="#8fd6e2"/>
<rect x="541" y="312" width="3" height="21" fill="#8fd6e2"/>
<rect x="547" y="308" width="1" height="28" fill="#8fd6e2"/>
<rect x="546" y="309" width="3" height="26" fill="#8fd6e2"/>
<rect x="552" y="324" width="1" height="6" fill="#8fd6e2"/>
<rect x="551" y="324" width="3" height="6" fill="#8fd6e2"/>
<rect x="557" y="305" width="1" height="24" fill="#131722"/>
<rect x="556" y="323" width="3" height="5" fill="#131722"/>
<rect x="561" y="318" width="1" height="9" fill="#131722"/>
<rect x="560" y="319" width="3" height="6" fill="#131722"/>
<rect x="567" y="315" width="1" height="22" fill="#8fd6e2"/>
<rect x="566" y="316" width="3" height="20" fill="#8fd6e2"/>
<rect x="572" y="320" width="1" height="10" fill="#8fd6e2"/>
<rect x="571" y="321" width="3" height="8" fill="#8fd6e2"/>
<rect x="576" y="295" width="1" height="56" fill="#131722"/>
<rect x="575" y="297" width="3" height="32" fill="#131722"/>
<rect x="582" y="299" width="1" height="11" fill="#8fd6e2"/>
<rect x="581" y="300" width="3" height="9" fill="#8fd6e2"/>
<rect x="587" y="295" width="1" height="30" fill="#131722"/>
<rect x="586" y="304" width="3" height="2" fill="#131722"/>
<rect x="592" y="303" width="1" height="18" fill="#8fd6e2"/>
<rect x="591" y="304" width="3" height="16" fill="#8fd6e2"/>
<rect x="597" y="313" width="1" height="13" fill="#131722"/>
<rect x="596" y="316" width="3" height="7" fill="#131722"/>
<rect x="602" y="306" width="1" height="13" fill="#131722"/>
<rect x="601" y="308" width="3" height="10" fill="#131722"/>
<rect x="607" y="307" width="1" height="19" fill="#8fd6e2"/>
<rect x="606" y="308" width="3" height="17" fill="#8fd6e2"/>
<rect x="612" y="317" width="1" height="6" fill="#131722"/>
<rect x="611" y="318" width="3" height="4" fill="#131722"/>
<rect x="617" y="313" width="1" height="9" fill="#131722"/>
<rect x="616" y="314" width="3" height="8" fill="#131722"/>
<rect x="622" y="306" width="1" height="21" fill="#8fd6e2"/>
<rect x="621" y="307" width="3" height="19" fill="#8fd6e2"/>
<rect x="627" y="306" width="1" height="14" fill="#131722"/>
<rect x="626" y="307" width="3" height="12" fill="#131722"/>
<rect x="632" y="298" width="1" height="22" fill="#131722"/>
<rect x="631" y="303" width="3" height="4" fill="#131722"/>
<rect x="637" y="274" width="1" height="32" fill="#131722"/>
<rect x="636" y="278" width="3" height="26" fill="#131722"/>
<rect x="642" y="276" width="1" height="30" fill="#8fd6e2"/>
<rect x="641" y="277" width="3" height="28" fill="#8fd6e2"/>
<rect x="647" y="286" width="1" height="24" fill="#131722"/>
<rect x="646" y="287" width="3" height="15" fill="#131722"/>
<rect x="652" y="282" width="1" height="6" fill="#131722"/>
<rect x="651" y="284" width="3" height="3" fill="#131722"/>
<rect x="657" y="268" width="1" height="18" fill="#131722"/>
<rect x="656" y="272" width="3" height="13" fill="#131722"/>
<rect x="662" y="271" width="1" height="19" fill="#8fd6e2"/>
<rect x="661" y="272" width="3" height="17" fill="#8fd6e2"/>
<rect x="667" y="282" width="1" height="25" fill="#8fd6e2"/>
<rect x="666" y="283" width="3" height="23" fill="#8fd6e2"/>
<rect x="672" y="289" width="1" height="14" fill="#8fd6e2"/>
<rect x="671" y="290" width="3" height="12" fill="#8fd6e2"/>
<rect x="677" y="277" width="1" height="29" fill="#131722"/>
<rect x="676" y="278" width="3" height="25" fill="#131722"/>
<rect x="682" y="272" width="1" height="24" fill="#8fd6e2"/>
<rect x="681" y="273" width="3" height="22" fill="#8fd6e2"/>
<rect x="687" y="288" width="1" height="8" fill="#8fd6e2"/>
<rect x="686" y="289" width="3" height="6" fill="#8fd6e2"/>
<rect x="692" y="276" width="1" height="19" fill="#131722"/>
<rect x="691" y="277" width="3" height="17" fill="#131722"/>
<rect x="697" y="258" width="1" height="40" fill="#131722"/>
<rect x="696" y="274" width="3" height="4" fill="#131722"/>
<rect x="702" y="275" width="1" height="17" fill="#8fd6e2"/>
<rect x="701" y="276" width="3" height="15" fill="#8fd6e2"/>
<rect x="707" y="253" width="1" height="41" fill="#131722"/>
<rect x="706" y="263" width="3" height="25" fill="#131722"/>
<rect x="712" y="245" width="1" height="21" fill="#131722"/>
<rect x="711" y="252" width="3" height="10" fill="#131722"/>
<rect x="717" y="249" width="1" height="18" fill="#131722"/>
<rect x="716" y="258" width="3" height="4" fill="#131722"/>
<rect x="722" y="234" width="1" height="28" fill="#131722"/>
<rect x="721" y="251" width="3" height="9" fill="#131722"/>
<rect x="727" y="235" width="1" height="33" fill="#131722"/>
<rect x="726" y="247" width="3" height="6" fill="#131722"/>
<rect x="732" y="237" width="1" height="26" fill="#8fd6e2"/>
<rect x="731" y="238" width="3" height="24" fill="#8fd6e2"/>
<rect x="737" y="244" width="1" height="42" fill="#8fd6e2"/>
<rect x="736" y="245" width="3" height="40" fill="#8fd6e2"/>
<rect x="742" y="261" width="1" height="19" fill="#131722"/>
<rect x="741" y="266" width="3" height="8" fill="#131722"/>
<rect x="747" y="260" width="1" height="10" fill="#131722"/>
<rect x="746" y="262" width="3" height="6" fill="#131722"/>
<rect x="752" y="262" width="1" height="18" fill="#8fd6e2"/>
<rect x="751" y="263" width="3" height="16" fill="#8fd6e2"/>
<rect x="757" y="251" width="1" height="26" fill="#131722"/>
<rect x="756" y="260" width="3" height="12" fill="#131722"/>
<rect x="762" y="228" width="1" height="32" fill="#131722"/>
<rect x="761" y="229" width="3" height="31" fill="#131722"/>
<rect x="767" y="221" width="1" height="24" fill="#131722"/>
<rect x="766" y="222" width="3" height="7" fill="#131722"/>
<rect x="772" y="208" width="1" height="16" fill="#8fd6e2"/>
<rect x="771" y="209" width="3" height="14" fill="#8fd6e2"/>
<rect x="777" y="173" width="1" height="52" fill="#131722"/>
<rect x="776" y="174" width="3" height="51" fill="#131722"/>
<rect x="782" y="173" width="1" height="42" fill="#8fd6e2"/>
<rect x="781" y="174" width="3" height="40" fill="#8fd6e2"/>
<rect x="788" y="192" width="1" height="22" fill="#131722"/>
<rect x="787" y="207" width="3" height="5" fill="#131722"/>
<rect x="793" y="181" width="1" height="28" fill="#131722"/>
<rect x="792" y="188" width="3" height="20" fill="#131722"/>
<rect x="797" y="175" width="1" height="24" fill="#131722"/>
<rect x="796" y="183" width="3" height="7" fill="#131722"/>
<rect x="802" y="182" width="1" height="15" fill="#8fd6e2"/>
<rect x="801" y="183" width="3" height="13" fill="#8fd6e2"/>
<rect x="808" y="164" width="1" height="35" fill="#131722"/>
<rect x="807" y="164" width="3" height="34" fill="#131722"/>
<rect x="813" y="162" width="1" height="24" fill="#8fd6e2"/>
<rect x="812" y="163" width="3" height="22" fill="#8fd6e2"/>
<rect x="818" y="170" width="1" height="11" fill="#8fd6e2"/>
<rect x="817" y="171" width="3" height="9" fill="#8fd6e2"/>
<rect x="823" y="130" width="1" height="58" fill="#131722"/>
<rect x="822" y="135" width="3" height="46" fill="#131722"/>
<rect x="827" y="118" width="1" height="25" fill="#8fd6e2"/>
<rect x="826" y="119" width="3" height="23" fill="#8fd6e2"/>
<rect x="833" y="142" width="1" height="25" fill="#8fd6e2"/>
<rect x="832" y="143" width="3" height="23" fill="#8fd6e2"/>
<rect x="838" y="150" width="1" height="25" fill="#8fd6e2"/>
<rect x="837" y="150" width="3" height="24" fill="#8fd6e2"/>
<rect x="842" y="138" width="1" height="32" fill="#131722"/>
<rect x="841" y="164" width="3" height="6" fill="#131722"/>
<rect x="848" y="144" width="1" height="26" fill="#131722"/>
<rect x="847" y="153" width="3" height="11" fill="#131722"/>
<rect x="853" y="152" width="1" height="48" fill="#8fd6e2"/>
<rect x="852" y="153" width="3" height="46" fill="#8fd6e2"/>
<rect x="857" y="155" width="1" height="53" fill="#131722"/>
<rect x="856" y="156" width="3" height="36" fill="#131722"/>
<rect x="863" y="143" width="1" height="19" fill="#131722"/>
<rect x="862" y="156" width="3" height="2" fill="#131722"/>
<rect x="868" y="154" width="1" height="23" fill="#8fd6e2"/>
<rect x="867" y="154" width="3" height="22" fill="#8fd6e2"/>
<rect x="872" y="165" width="1" height="49" fill="#8fd6e2"/>
<rect x="871" y="166" width="3" height="47" fill="#8fd6e2"/>
<rect x="878" y="166" width="1" height="38" fill="#131722"/>
<rect x="877" y="175" width="3" height="25" fill="#131722"/>
<rect x="883" y="154" width="1" height="38" fill="#131722"/>
<rect x="882" y="164" width="3" height="20" fill="#131722"/>
<rect x="888" y="157" width="1" height="27" fill="#8fd6e2"/>
<rect x="887" y="158" width="3" height="25" fill="#8fd6e2"/>
<rect x="893" y="181" width="1" height="13" fill="#131722"/>
<rect x="892" y="182" width="3" height="10" fill="#131722"/>
<rect x="898" y="180" width="1" height="12" fill="#8fd6e2"/>
<rect x="897" y="181" width="3" height="10" fill="#8fd6e2"/>
<rect x="902" y="181" width="1" height="23" fill="#131722"/>
<rect x="901" y="184" width="3" height="13" fill="#131722"/>
<rect x="908" y="178" width="1" height="12" fill="#8fd6e2"/>
<rect x="907" y="179" width="3" height="10" fill="#8fd6e2"/>
<rect x="913" y="170" width="1" height="15" fill="#8fd6e2"/>
<rect x="912" y="171" width="3" height="13" fill="#8fd6e2"/>
<rect x="917" y="133" width="1" height="65" fill="#131722"/>
<rect x="916" y="148" width="3" height="45" fill="#131722"/>
<rect x="923" y="142" width="1" height="38" fill="#8fd6e2"/>
<rect x="922" y="143" width="3" height="36" fill="#8fd6e2"/>
<rect x="927" y="160" width="1" height="18" fill="#8fd6e2"/>
<rect x="926" y="161" width="3" height="16" fill="#8fd6e2"/>
<line x1="0" y1="174.5" x2="940" y2="174.5" stroke="#6cc8d6" stroke-width="1" stroke-opacity="0.85" stroke-dasharray="1.2,2.3"/>
<!-- top strip -->
<rect x="0" y="0" width="1000" height="3" fill="#e6e6e6"/>
<!-- legend backgrounds -->
<rect x="0" y="6" width="553" height="22" fill="#ffffff" fill-opacity="0.55"/>
<rect x="0" y="28" width="174" height="36" fill="#ffffff" fill-opacity="0.55"/>
<rect x="0" y="65" width="307" height="19" fill="#ffffff" fill-opacity="0.6"/>
<rect x="0" y="87.5" width="388" height="18" fill="#ffffff" fill-opacity="0.6"/>
<!-- symbol icon -->
<g>
<circle cx="18" cy="13.7" r="4.9" fill="#3d8f88"/>
<circle cx="18" cy="13.7" r="3" fill="#8cc4bc"/>
<circle cx="18" cy="13.7" r="1.6" fill="#3d8f88"/>
<circle cx="12.3" cy="19.7" r="6.1" fill="#ffffff"/>
<circle cx="12.3" cy="19.7" r="5.3" fill="#161616"/>
<circle cx="12.3" cy="19.7" r="2.9" fill="#9c949c"/>
<circle cx="12.3" cy="19.7" r="0.8" fill="#161616"/>
</g>
<text x="27" y="21.7" font-size="14.2" fill="#131722" textLength="168.8" lengthAdjust="spacingAndGlyphs">Mantle / USDT · 4h · MEXC</text>
<circle cx="211.6" cy="16.4" r="5.6" fill="#d3e6da"/>
<circle cx="211.6" cy="16.4" r="3.2" fill="#4f9880"/>
<g font-size="12.5">
<text x="227.7" y="21.4" font-size="12" fill="#2a2e39" stroke="#2a2e39" stroke-width="0.3">O</text><text x="237.6" y="21.4" fill="#cd6464" textLength="38.4" lengthAdjust="spacingAndGlyphs">1.2861</text>
<text x="282.7" y="21.4" font-size="12" fill="#2a2e39" stroke="#2a2e39" stroke-width="0.3">H</text><text x="292.6" y="21.4" fill="#cd6464" textLength="38.4" lengthAdjust="spacingAndGlyphs">1.2943</text>
<text x="338" y="21.4" font-size="12" fill="#2a2e39" stroke="#2a2e39" stroke-width="0.3">L</text><text x="345" y="21.4" fill="#cd6464" textLength="38.4" lengthAdjust="spacingAndGlyphs">1.2719</text>
<text x="390.8" y="21.4" font-size="12" fill="#2a2e39" stroke="#2a2e39" stroke-width="0.3">C</text><text x="400.3" y="21.4" fill="#cd6464" textLength="38.4" lengthAdjust="spacingAndGlyphs">1.2734</text>
<text x="446" y="21.4" fill="#cd6464" textLength="47" lengthAdjust="spacingAndGlyphs">−0.0120</text><text x="496" y="21.4" fill="#cd6464" textLength="51" lengthAdjust="spacingAndGlyphs">(−0.93%)</text>
</g>
<!-- sell / buy -->
<rect x="6.8" y="31.8" width="57.5" height="28.3" rx="4.5" fill="#ffffff" stroke="#e39a9a" stroke-width="1"/>
<text x="36.5" y="44" font-size="12.2" fill="#d9626a" stroke="#d9626a" stroke-width="0.35" text-anchor="middle" textLength="37" lengthAdjust="spacingAndGlyphs">1.2734</text>
<text x="35.5" y="56.2" font-size="9.6" fill="#d9626a" text-anchor="middle" letter-spacing="0.3">SELL</text>
<text x="87.5" y="50.3" font-size="10.1" fill="#363a45" text-anchor="middle">0.0001</text>
<rect x="112.1" y="31.8" width="57.5" height="28.3" rx="4.5" fill="#ffffff" stroke="#6e8fe8" stroke-width="1"/>
<text x="141" y="44" font-size="12.2" fill="#4f79e0" stroke="#4f79e0" stroke-width="0.35" text-anchor="middle" textLength="37" lengthAdjust="spacingAndGlyphs">1.2735</text>
<text x="140.4" y="56.2" font-size="9.6" fill="#4f79e0" text-anchor="middle" letter-spacing="0.3">BUY</text>
<!-- EMA/DKC legend -->
<g font-size="12.6">
<text x="7.6" y="79.8" fill="#131722" textLength="112" lengthAdjust="spacingAndGlyphs">EMA 20/50/100/200</text>
<text x="128.5" y="79.8" fill="#d0675a" textLength="38.1" lengthAdjust="spacingAndGlyphs">1.2668</text>
<text x="174.4" y="79.8" fill="#e2a372" textLength="38.1" lengthAdjust="spacingAndGlyphs">1.2283</text>
<text x="220" y="79.8" fill="#9fe6e6" textLength="38.1" lengthAdjust="spacingAndGlyphs">1.1826</text>
<text x="265.6" y="79.8" fill="#5563d2" textLength="38.1" lengthAdjust="spacingAndGlyphs">1.1895</text>
<text x="7.6" y="100.8" fill="#131722" textLength="22.4" lengthAdjust="spacingAndGlyphs">DKC</text>
<text x="34" y="100.8" fill="#787b86" textLength="75" lengthAdjust="spacingAndGlyphs">20 20 1 close</text>
<text x="118" y="100.8" fill="#5563d2" textLength="38.1" lengthAdjust="spacingAndGlyphs">1.2168</text>
<text x="163.6" y="100.8" fill="#5563d2" textLength="38.1" lengthAdjust="spacingAndGlyphs">1.3326</text>
<text x="209.5" y="100.8" fill="#dca476" textLength="38.1" lengthAdjust="spacingAndGlyphs">1.2747</text>
<text x="254.5" y="100.8" fill="#5563d2" textLength="38.1" lengthAdjust="spacingAndGlyphs">1.3105</text>
<text x="300.4" y="100.8" fill="#5563d2" textLength="38.1" lengthAdjust="spacingAndGlyphs">1.2668</text>
<text x="346" y="100.8" fill="#5563d2" textLength="38.1" lengthAdjust="spacingAndGlyphs">1.2232</text>
</g>
<rect x="7.2" y="110.7" width="24.4" height="17.8" rx="3" fill="#ffffff" stroke="#e0e3eb" stroke-width="1"/>
<path d="M15.6,122 L19.1,118.5 L22.6,122" fill="none" stroke="#131722" stroke-width="1.4"/>
<!-- drag widget -->
<rect x="587.3" y="12.9" width="54.5" height="33" rx="5" fill="#ffffff" style="filter:drop-shadow(0 1px 2px rgba(0,0,0,0.12))"/>
<g fill="#b2b5be"><circle cx="595" cy="25" r="0.9"/><circle cx="600.7" cy="25" r="0.9"/><circle cx="595" cy="29.3" r="0.9"/><circle cx="600.7" cy="29.3" r="0.9"/><circle cx="595" cy="33.6" r="0.9"/><circle cx="600.7" cy="33.6" r="0.9"/></g>
<g fill="none" stroke="#2a2e39" stroke-width="1.3">
<rect x="618.6" y="22.6" width="5.4" height="5.4" rx="1.8"/>
<rect x="626.5" y="22.6" width="5.4" height="5.4" rx="1.8"/>
<rect x="618.6" y="30.6" width="5.4" height="5.4" rx="1.8"/>
<path d="M629.2,30.4 V36 M626.4,33.2 H632"/>
</g>
<!-- fib labels -->
<g font-size="11.8" fill="#e8b37a">
<text x="850.5" y="121.3" textLength="53" lengthAdjust="spacingAndGlyphs">1 (1.3562)</text>
<text x="850" y="195.6" textLength="78" lengthAdjust="spacingAndGlyphs">0.786 (1.2306)</text>
<text x="850" y="255" textLength="78" lengthAdjust="spacingAndGlyphs">0.618 (1.1678)</text>
<text x="850" y="294.6" textLength="66" lengthAdjust="spacingAndGlyphs">0.5 (1.1095)</text>
<text x="850" y="335.6" textLength="78" lengthAdjust="spacingAndGlyphs">0.382 (1.0513)</text>
<text x="850" y="387.2" textLength="78" lengthAdjust="spacingAndGlyphs">0.236 (0.9793)</text>
<text x="850" y="469" textLength="53" lengthAdjust="spacingAndGlyphs">0 (0.8629)</text>
</g>
<!-- MNTUSDT label -->
<rect x="880" y="168" width="60" height="14.5" fill="#5fc3d3"/>
<text x="883.5" y="179.3" font-size="11.2" fill="#0d3b44" stroke="#0d3b44" stroke-width="0.3" textLength="52" lengthAdjust="spacingAndGlyphs">MNTUSDT</text>
<!-- price scale -->
<rect x="940" y="3" width="60" height="530" fill="#ffffff"/>
<rect x="943.4" y="6.7" width="55.8" height="21.4" rx="3" fill="#ffffff" stroke="#eceef2" stroke-width="1"/>
<text x="947.2" y="21.4" font-size="11" fill="#131722">USDT</text>
<path d="M991.3,17.4 L993.5,19.6 L995.7,17.4" fill="none" stroke="#131722" stroke-width="1.2"/>
<g font-size="11.8" fill="#131722">
<text x="948.5" y="54">1.4500</text>
<text x="948.5" y="89">1.4000</text>
<text x="948.5" y="124.5">1.3500</text>
<text x="948.5" y="160">1.3000</text><text x="948.5" y="195.4">1.2500</text><text x="948.5" y="230.7">1.2000</text><text x="948.5" y="266">1.1500</text><text x="948.5" y="301.3">1.1000</text>
<text x="948.5" y="336.3">1.0500</text>
<text x="948.5" y="371.7">1.0000</text>
<text x="948.5" y="407">0.9500</text>
<text x="948.5" y="442.3">0.9000</text>
<text x="948.5" y="477.6">0.8500</text>
</g>
<g font-size="11.8" fill="#f4f7ff">
<rect x="941" y="122.7" width="49" height="30.5" fill="#1f63ea"/><text x="948.5" y="134">1.3326</text><text x="948.5" y="148.9">1.3105</text>
<rect x="941" y="152.7" width="49" height="15.3" fill="#e8853e"/><text x="948.5" y="163.6">1.2747</text>
<rect x="941" y="194.6" width="49" height="16" fill="#1f63ea"/><text x="948.5" y="206">1.2668</text>
<rect x="941" y="210.3" width="49" height="14.7" fill="#e35a40"/><text x="948.5" y="221">1.2668</text>
<rect x="941" y="224.8" width="49" height="15.7" fill="#e8853e"/><text x="948.5" y="236">1.2283</text>
<rect x="941" y="240.3" width="49" height="44.7" fill="#1f63ea"/><text x="948.5" y="251">1.2232</text><text x="948.5" y="266">1.2168</text><text x="948.5" y="281">1.1895</text>
<rect x="941" y="284.8" width="49" height="15.2" fill="#8ee7f2"/><text x="948.5" y="296" fill="#0f2e33">1.1826</text>
</g>
<rect x="941" y="167.8" width="59" height="28.2" fill="#5fc3d3"/>
<text x="948.5" y="179.2" font-size="11.8" fill="#0d2f36">1.2734</text>
<text x="948.5" y="191.5" font-size="11.8" fill="#0d2f36" textLength="46" lengthAdjust="spacingAndGlyphs">02:40:43</text>
<!-- time axis -->
<rect x="0" y="505" width="940" height="28" fill="#ffffff" fill-opacity="0"/>
<g font-size="11.6" fill="#2a2e39" text-anchor="middle">
<text x="16.2" y="525.8">17</text><text x="76.3" y="525.8">19</text><text x="136.4" y="525.8">21</text><text x="196.6" y="525.8">23</text>
<text x="256.7" y="525.8">25</text><text x="316.8" y="525.8">27</text><text x="376.9" y="525.8">29</text><text x="437.0" y="525.8" font-weight="bold">Dec</text>
<text x="497.2" y="525.8">3</text><text x="557.3" y="525.8">5</text><text x="617.4" y="525.8">7</text><text x="677.5" y="525.8">9</text>
<text x="737.6" y="525.8">11</text><text x="797.8" y="525.8">13</text><text x="857.9" y="525.8">15</text><text x="918.0" y="525.8">17</text>
</g>
<!-- gear hex -->
<path d="M966,521.5 L969,516.3 L975,516.3 L978,521.5 L975,526.7 L969,526.7 Z" fill="none" stroke="#131722" stroke-width="1.2" stroke-linejoin="round"/>
<circle cx="972" cy="521.5" r="2.1" fill="none" stroke="#131722" stroke-width="1.2"/>
<!-- lightning -->
<circle cx="927.7" cy="497.8" r="8.6" fill="none" stroke="#9a5fc8" stroke-width="1.5"/>
<path d="M929.5,492.5 L924.5,498.8 L928,498.8 L926,503.2 L931,496.8 L927.5,496.8 Z" fill="#9a5fc8"/>
<circle cx="934" cy="491.3" r="2.6" fill="#ffffff"/>
<circle cx="934" cy="491.3" r="2" fill="#e04a5a"/>
<!-- TV logo -->
<g fill="#131722">
<path d="M10,483 H20 V495.6 H15.2 V487.6 H10 Z"/>
<circle cx="24.6" cy="485.4" r="2.3"/>
<path d="M31.2,483 H35.6 L30.6,495.6 H25.2 Z"/>
</g>
<text x="42.2" y="495.8" font-size="17.8" fill="#131722" stroke="#131722" stroke-width="0.5" textLength="106.5" lengthAdjust="spacingAndGlyphs">TradingView</text>
<!-- bottom bar -->
<line x1="0" y1="533" x2="1000" y2="533" stroke="#e0e3eb" stroke-width="1"/>
<line x1="0" y1="568" x2="1000" y2="568" stroke="#e8e8ea" stroke-width="1"/>
<g font-size="12.4" fill="#131722">
<text x="13.2" y="556.3">1D</text><text x="39.7" y="556.3">5D</text><text x="67.5" y="556.3">1M</text><text x="96" y="556.3">3M</text>
<text x="125" y="556.3">6M</text><text x="155" y="556.3">YTD</text><text x="191" y="556.3">1Y</text><text x="216.5" y="556.3">All</text>
</g>
<line x1="239.7" y1="541" x2="239.7" y2="560" stroke="#e0e3eb" stroke-width="1"/>
<g fill="none" stroke="#131722" stroke-width="1.1">
<path d="M252.6,549.4 V545.6 Q252.6,544.3 253.9,544.3 H266.5 Q267.8,544.3 267.8,545.6 V556.1 Q267.8,557.4 266.5,557.4 H260.6"/>
<path d="M253,547.7 H267.4" stroke="#787b86"/>
<path d="M257.4,542 V545.8 M263.4,542 V545.8"/>
<path d="M251.8,555.1 H257.5 M255.3,552.4 L257.8,555.1 L255.3,557.8"/>
</g>
<text x="994" y="555.7" font-size="13.2" fill="#131722" text-anchor="end">09:19:16 UTC</text>
</svg>
</body></html>
